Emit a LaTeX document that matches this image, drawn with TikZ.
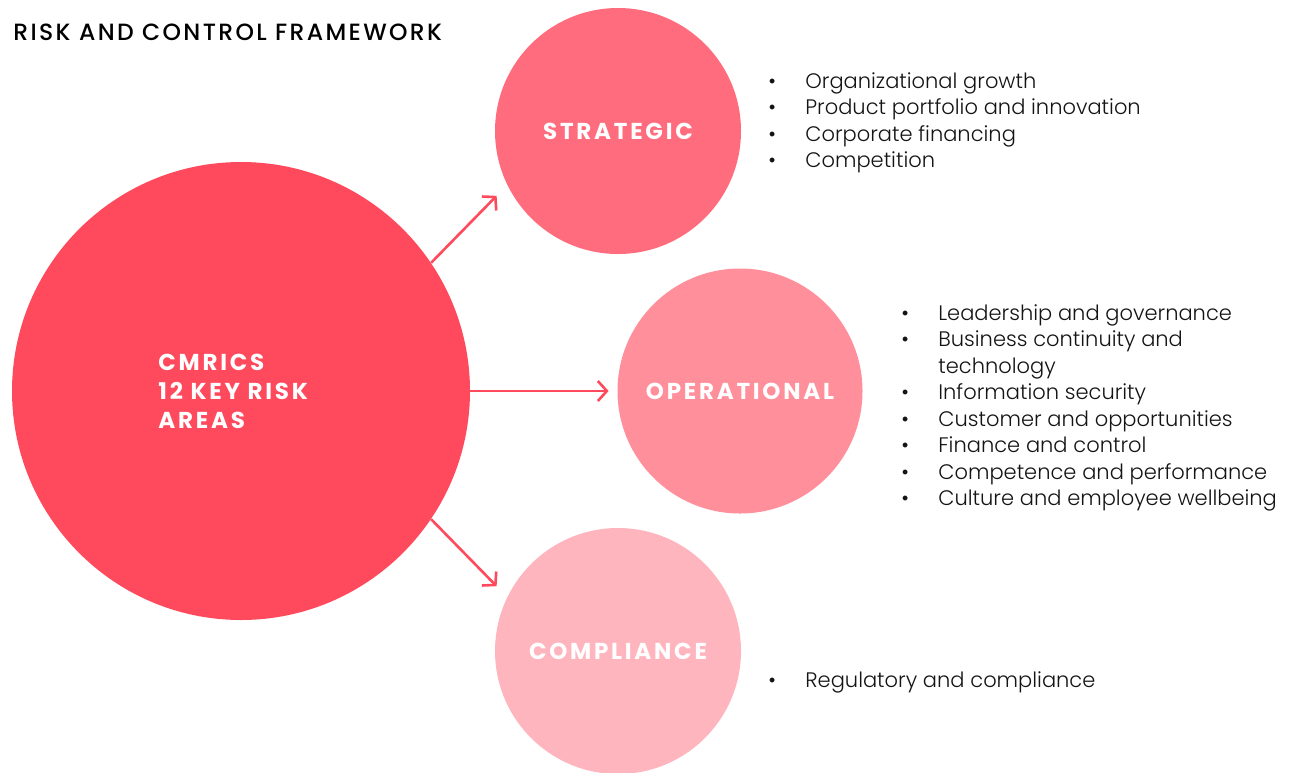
\documentclass[tikz,border=0pt]{standalone}
\usepackage{fontspec}
\setmainfont{Poppins}[UprightFont=* Light]
\newfontfamily\headfont{Poppins}[UprightFont=* Medium,LetterSpace=10]
\newfontfamily\capsfont{Poppins}[UprightFont=* Bold,LetterSpace=12]
\usepackage{tikz}
\usetikzlibrary{arrows.meta}

\definecolor{riskred}{RGB}{255,74,94}
\definecolor{stratpink}{RGB}{255,108,125}
\definecolor{operpink}{RGB}{255,143,155}
\definecolor{comppink}{RGB}{255,181,190}
\definecolor{listgray}{RGB}{20,20,20}

\tikzset{
  area/.style={circle, inner sep=0pt, minimum size=246pt, text=white,
    font=\capsfont\fontsize{23}{29}\selectfont},
  bullets/.style={anchor=base west, inner sep=0pt, text=listgray,
    font=\fontsize{21}{26.5}\selectfont},
}
\newcommand{\itm}{\makebox[37pt][l]{\textbullet}}

\begin{document}
\begin{tikzpicture}[x=1pt,y=-1pt,thick]
\clip (0,0) rectangle (1297,772);

\path
  node[anchor=base west, inner sep=0pt, font=\headfont\fontsize{23.5}{26}\selectfont] (title) at (13,40) {RISK AND CONTROL FRAMEWORK}
  node[circle, fill=riskred, minimum size=458pt, inner sep=0pt] (big) at (241,391) {}
  node[anchor=base west, inner sep=0pt, text=white, font=\capsfont\fontsize{23}{29}\selectfont] (bigtext) at (158,370.5)
    {\begin{tabular}[t]{@{}l@{}}CMRICS\\12 KEY RISK\\AREAS\end{tabular}}
  node[area, fill=stratpink] (strat) at (618,131) {STRATEGIC}
  node[area, fill=operpink, minimum size=245pt] (oper) at (740,391) {OPERATIONAL}
  node[area, fill=comppink] (comp) at (618,651) {COMPLIANCE};

\path
  node[bullets] (stratlist) at (768,88)
    {\begin{tabular}[t]{@{}l@{}l@{}}
      \itm & Organizational growth\\
      \itm & Product portfolio and innovation\\
      \itm & Corporate financing\\
      \itm & Competition
    \end{tabular}}
  node[bullets] (operlist) at (901,320)
    {\begin{tabular}[t]{@{}l@{}l@{}}
      \itm & Leadership and governance\\
      \itm & Business continuity and\\
           & technology\\
      \itm & Information security\\
      \itm & Customer and opportunities\\
      \itm & Finance and control\\
      \itm & Competence and performance\\
      \itm & Culture and employee wellbeing
    \end{tabular}}
  node[bullets] (complist) at (768,687)
    {\begin{tabular}[t]{@{}l@{}l@{}}
      \itm & Regulatory and compliance
    \end{tabular}};

\begin{scope}[->, >={Straight Barb[length=9pt,width=20pt]}, draw=riskred, line width=2.6pt]
  % nach oben
  \draw (big.34) -- (strat.206) [shorten >=15pt];
  % mitte
  \draw (big.0) -- (oper.180) [shorten >=8.5pt];
  % nach unten
  \draw (big.-34) -- (comp.154) [shorten >=15pt];
\end{scope}

\end{tikzpicture}
\end{document}
